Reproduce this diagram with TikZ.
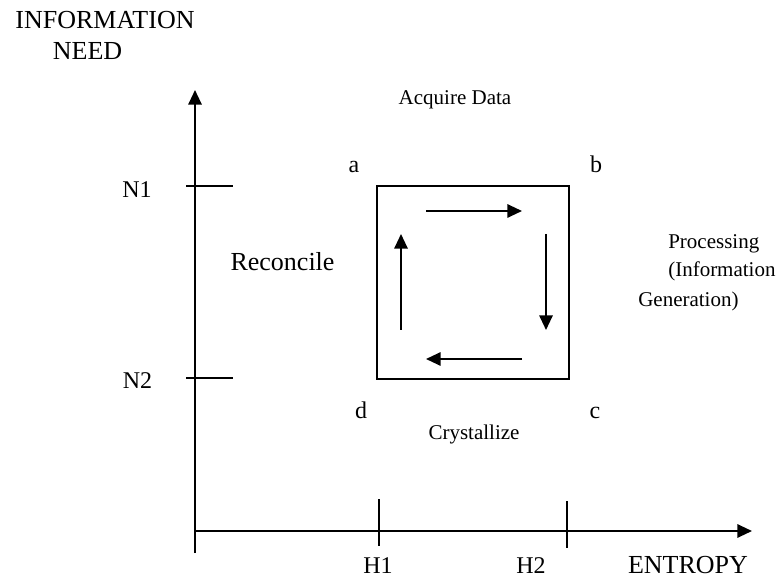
\documentclass[tikz,border=0pt]{standalone}
\usepackage{fontspec}
\setmainfont{Liberation Serif}
\usetikzlibrary{arrows.meta}

\begin{document}
\begin{tikzpicture}[x=0.75pt, y=-0.75pt, >={Triangle[length=11pt,width=10pt]},
  axis/.style={line width=1.5pt},
  tick/.style={line width=1pt},
  flow/.style={line width=1.5pt, ->},
  big/.style={font=\fontsize{19.5}{23}\selectfont, anchor=base, inner sep=0pt},
  mid/.style={font=\fontsize{18}{21}\selectfont, anchor=base, inner sep=0pt},
  small/.style={font=\fontsize{15.75}{19}\selectfont, anchor=base, inner sep=0pt}]

\useasboundingbox (0,0) rectangle (781,580);

% Axes
\coordinate (O) at (195,531);
\coordinate (ytop) at (195,90);
\coordinate (ybot) at (195,553);
\coordinate (xtip) at (752,531);
\draw[axis,->] (ybot) -- (ytop);
\draw[axis,->] (O) -- (xtip);

% Ticks
\coordinate (n1a) at (186,186); \coordinate (n1b) at (233,186);
\coordinate (n2a) at (186,378); \coordinate (n2b) at (233,378);
\coordinate (h1a) at (379,499); \coordinate (h1b) at (379,546);
\coordinate (h2a) at (567,501); \coordinate (h2b) at (567,548);
\draw[tick] (n1a) -- (n1b);
\draw[tick] (n2a) -- (n2b);
\draw[tick] (h1a) -- (h1b);
\draw[tick] (h2a) -- (h2b);

% Labels for axes
\node[big] (infoneed1) at (105,29) {INFORMATION};
\node[big] (infoneed2) at (87.5,60) {NEED};
\node[big] (entropy) at (688,573) {ENTROPY};
\node[mid] (n1) at (137,198) {N1};
\node[mid] (n2) at (137.5,389) {N2};
\node[mid] (h1) at (378,573) {H1};
\node[mid] (h2) at (531,573) {H2};

% Cycle box
\coordinate (boxtl) at (377,186);
\coordinate (boxbr) at (569,379);
\draw[line width=1.2pt] (boxtl) rectangle (boxbr);

% Corner labels
\node[mid] (a) at (354,173) {a};
\node[mid] (b) at (596,173) {b};
\node[mid] (c) at (595,418) {c};
\node[mid] (d) at (361,418) {d};

% Arrows round the cycle
\coordinate (t1) at (426,211); \coordinate (t2) at (522,211);
\coordinate (r1) at (546,234); \coordinate (r2) at (546,330);
\coordinate (b1) at (522,359); \coordinate (b2) at (426,359);
\coordinate (l1) at (401,330); \coordinate (l2) at (401,234);
\draw[flow] (t1) -- (t2);
\draw[flow] (r1) -- (r2);
\draw[flow] (b1) -- (b2);
\draw[flow] (l1) -- (l2);

% Stages
\node[small] (acquire) at (455,105) {Acquire Data};
\node[small] (crystal) at (474,440) {Crystallize};
\node[big] (reconcile) at (282.5,271) {Reconcile};
\node[small, anchor=base west] (proc1) at (668,249) {Processing};
\node[small, anchor=base west] (proc2) at (668,277) {(Information};
\node[small, anchor=base west] (proc3) at (638,307) {Generation)};

\end{tikzpicture}
\end{document}
